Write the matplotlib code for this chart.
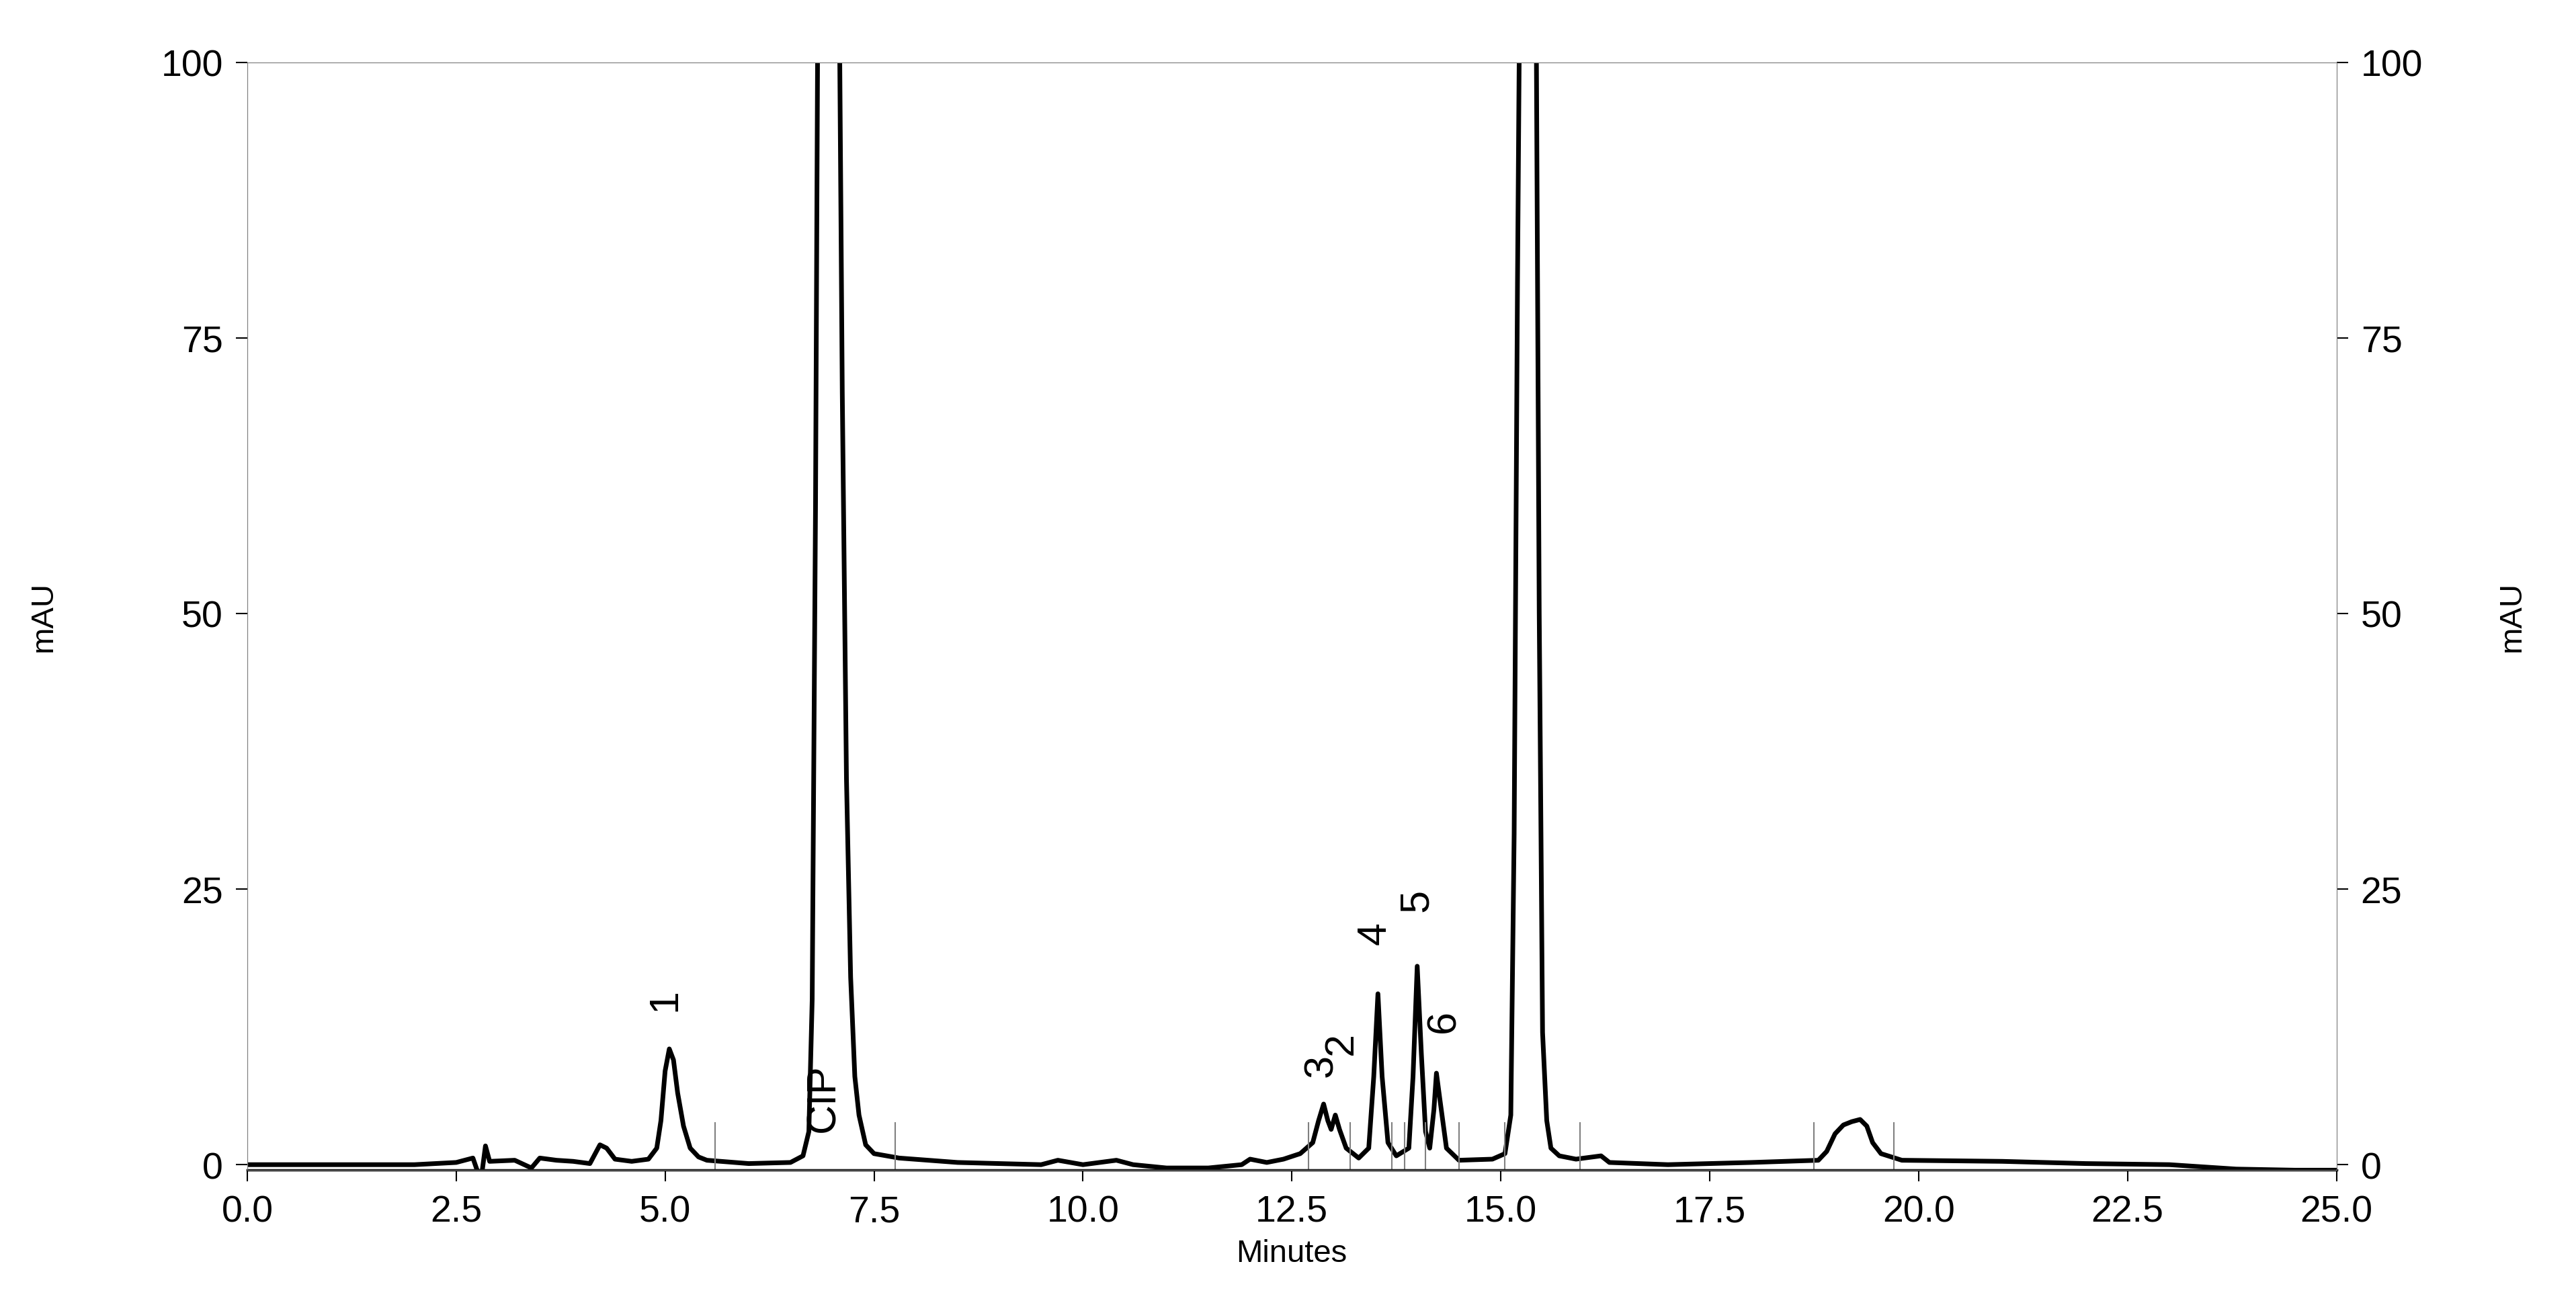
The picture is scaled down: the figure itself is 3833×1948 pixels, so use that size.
import matplotlib
matplotlib.use('Agg')
from matplotlib import pyplot as plt

plt.rcParams['font.family'] = ['Liberation Sans', 'DejaVu Sans']

# trace points (minutes, mAU)
t = [0, 2.0, 2.5, 2.7, 2.75, 2.8, 2.85, 2.9, 3.2, 3.4, 3.5, 3.7, 3.9, 4.1, 4.22, 4.3, 4.4, 4.6, 4.8,
     4.9, 4.95, 5.0, 5.05, 5.1, 5.15, 5.22, 5.3, 5.4, 5.5, 6.0, 6.5, 6.65, 6.72, 6.76, 6.8, 6.83,
     7.08, 7.12, 7.17, 7.22, 7.27, 7.32, 7.4, 7.5, 7.8, 8.5, 9.5,
     9.7, 10.0, 10.4, 10.6, 11.0, 11.5, 11.9, 12.0, 12.2, 12.4, 12.6, 12.75, 12.82, 12.88, 12.93, 12.97,
     13.02, 13.07, 13.15, 13.3, 13.42, 13.48, 13.53, 13.58, 13.65, 13.75, 13.9, 13.95, 14.0, 14.05,
     14.1, 14.15, 14.2, 14.23, 14.27, 14.35, 14.5, 14.9, 15.05, 15.12, 15.16, 15.2, 15.23,
     15.42, 15.46, 15.5, 15.55, 15.6, 15.7, 15.9, 16.2, 16.3, 17.0, 18.0, 18.8, 18.9, 19.0, 19.1,
     19.2, 19.3, 19.38, 19.45, 19.55, 19.8, 21.0, 22.0, 23.0, 23.8, 24.5, 25.0]
mau = [0, 0, 0.2, 0.6, -0.5, -1.2, 1.7, 0.3, 0.4, -0.3, 0.6, 0.4, 0.3, 0.1, 1.8, 1.5, 0.5, 0.3, 0.5,
       1.5, 4, 8.5, 10.5, 9.5, 6.5, 3.5, 1.5, 0.7, 0.4, 0.1, 0.2, 0.8, 3, 15, 60, 110,
       110, 70, 35, 17, 8, 4.5, 1.8, 1.0, 0.6, 0.2, 0,
       0.4, 0, 0.4, 0, -0.3, -0.3, 0, 0.5, 0.2, 0.5, 1, 2.0, 4, 5.5, 4, 3.2,
       4.5, 3.2, 1.5, 0.6, 1.5, 8, 15.5, 8, 2, 0.8, 1.5, 8, 18, 10,
       3, 1.5, 5, 8.3, 6, 1.5, 0.4, 0.5, 1, 4.5, 30, 80, 110,
       110, 50, 12, 4, 1.5, 0.8, 0.5, 0.8, 0.2, 0, 0.2, 0.4, 1.2, 2.8, 3.6,
       3.9, 4.1, 3.5, 2, 1.0, 0.4, 0.3, 0.1, 0, -0.4, -0.5, -0.5]

# integration marks
marks = [5.6, 7.75, 12.7, 13.2, 13.7, 13.85, 14.1, 14.5, 15.05, 15.95, 18.75, 19.7]
peak_labels = ['1', 'CIP', '2', '3', '4', '5', '6']
label_x = [5.0, 6.9, 13.1, 12.86, 13.5, 14.0, 14.32]
label_y = [14, 3, 10.0, 8.0, 20, 23, 12]

fig = plt.figure(figsize=(38.33, 19.49), dpi=100)
ax = fig.add_axes([0.096, 0.106, 0.811, 0.846])
ax.plot(t, mau, color='black', lw=5)
ax.plot([0, 25], [-0.7, -0.7], color='grey', lw=1)
for m in marks:
    ax.plot([m, m], [-0.5, 3.8], color='grey', lw=1.5)
for s, x, y in zip(peak_labels, label_x, label_y):
    ax.text(x, y, s, rotation=90, fontsize=44, ha='center', va='bottom')

ax.set_xlim(0, 25)
ax.set_ylim(-0.5, 100)
ax.set_xticks([0, 2.5, 5, 7.5, 10, 12.5, 15, 17.5, 20, 22.5, 25])
ax.set_xticklabels(['0.0', '2.5', '5.0', '7.5', '10.0', '12.5', '15.0', '17.5', '20.0', '22.5', '25.0'])
ax.set_yticks([0, 25, 50, 75, 100])
ax.set_xlabel('Minutes', fontsize=34, labelpad=10)
ax.set_ylabel('mAU', fontsize=34, labelpad=110)
ax2 = ax.twinx()
ax2.set_ylim(-0.5, 100)
ax2.set_yticks([0, 25, 50, 75, 100])
ax2.tick_params(labelsize=40, length=12, width=1.5, pad=14)
ax2.set_ylabel('mAU', fontsize=34, labelpad=80)
ax.tick_params(labelsize=40, length=12, width=1.5, pad=14)
for a in (ax, ax2):
    for sp in a.spines.values():
        sp.set_color('grey')
ax.spines['bottom'].set_color('black')
ax.spines['bottom'].set_linewidth(2.5)

fig.savefig('out.png')
